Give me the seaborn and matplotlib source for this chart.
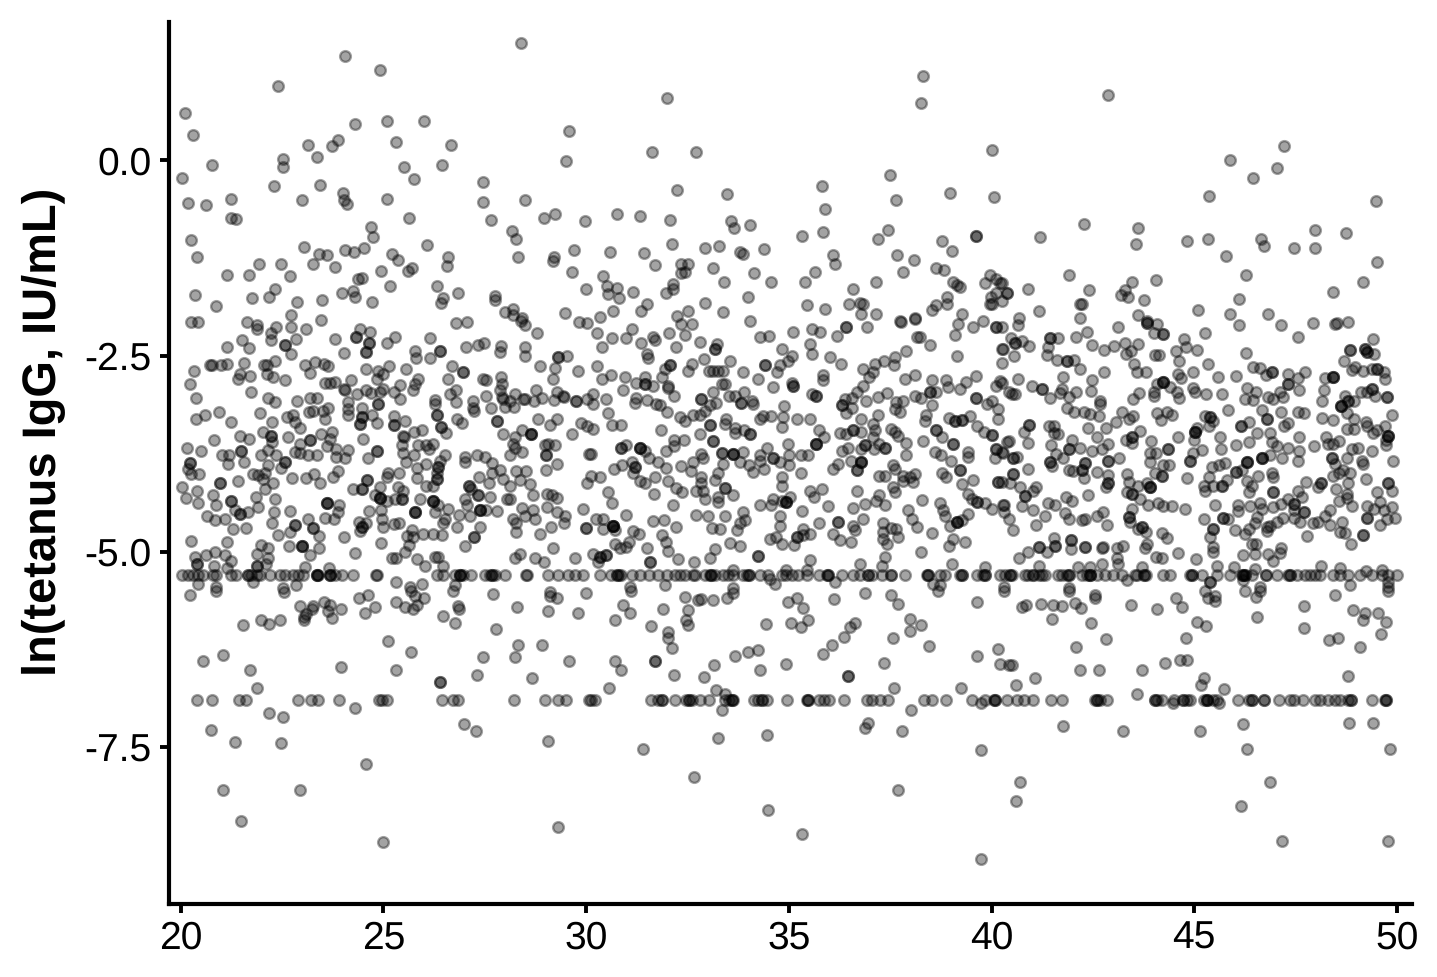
import numpy as np
import pandas as pd
import matplotlib
matplotlib.use("Agg")
import matplotlib.pyplot as plt
import seaborn as sns

# Ages of samples sitting on the two lower censoring limits
limit_upper = -5.3
limit_lower = -6.9
ages_upper_limit = [20.04,20.18,20.31,20.43,20.55,20.80,20.88,21.25,21.37,21.66,21.66,21.74,21.88,21.95,22.20,22.44,22.57,22.77,22.90,23.02,23.35,23.35,23.35,23.39,23.68,23.68,23.68,23.80,23.97,24.24,24.81,24.83,26.31,26.47,26.76,26.88,26.88,26.88,26.97,27.17,27.50,27.62,27.67,27.67,27.75,27.99,28.51,28.53,29.06,29.31,29.56,29.73,29.93,
30.34,30.62,30.75,30.75,30.81,30.87,31.12,31.32,31.55,31.78,32.0,32.19,32.31,32.43,32.64,32.68,32.93,33.05,33.09,33.09,33.17,33.38,33.50,33.63,33.87,33.96,34.02,34.02,34.28,34.49,34.82,34.94,35.07,35.23,35.45,35.75,35.95,35.97,35.97,36.30,36.59,36.75,36.96,36.96,37.04,37.29,37.53,37.53,37.86,38.41,38.44,38.44,38.73,38.85,39.22,39.26,39.26,39.63,39.79,39.83,39.83,40.20,
40.33,40.46,40.46,40.50,40.83,40.91,41.03,41.03,41.18,41.24,41.32,41.65,41.73,41.85,41.90,41.90,42.22,42.36,42.43,42.43,42.43,42.59,42.80,43.0,43.21,43.54,43.58,43.75,43.75,43.80,44.24,44.40,44.90,44.94,44.94,45.19,45.56,45.88,46.17,46.21,46.21,46.25,46.25,46.42,46.76,46.76,47.04,47.30,47.36,47.36,47.53,47.73,47.86,47.98,48.10,48.43,48.60,48.80,49.09,49.38,49.63,49.79,50.0]
ages_lower_limit = [20.40,20.78,21.44,21.62,22.89,23.21,23.39,23.90,24.89,24.97,25.08,26.45,26.72,26.85,28.21,28.98,29.30,29.50,30.08,
30.13,30.21,31.59,31.78,31.86,31.86,32.18,32.47,32.53,32.53,32.60,32.80,33.02,33.42,33.53,33.59,33.59,33.63,34.14,34.24,34.33,34.33,34.45,34.95,35.44,35.48,35.48,35.75,35.87,36.0,36.37,36.93,37.06,37.24,37.45,38.33,38.54,38.87,39.51,39.84,40.06,40.08,40.08,40.37,
40.62,40.79,41.03,41.46,41.73,42.55,42.59,42.59,42.68,42.84,44.03,44.03,44.08,44.20,44.49,44.73,44.73,44.82,44.90,45.23,45.31,45.31,45.31,45.47,45.56,46.09,46.34,46.42,46.42,46.71,46.72,47.09,47.36,47.45,47.67,47.98,48.10,48.31,48.47,48.60,48.80,48.86,48.86,49.38,49.71,49.73,49.73]

upper_left = [(28.40,1.50),(24.05,1.34),(24.91,1.16),(22.40,0.95),(20.11,0.61),(20.30,0.33),(20.78,-0.06),(20.04,-0.23),(23.14,0.20),(23.88,0.26),(23.72,0.18),(23.36,0.04),(24.30,0.47),(25.09,0.51),(26.0,0.51),(25.30,0.24),(26.67,0.20),(26.45,-0.06),(25.50,-0.09),(25.76,-0.24),(22.53,0.02),(22.53,-0.08),(22.31,-0.33),(23.44,-0.32),(22.98,-0.50),(21.23,-0.49),(20.19,-0.54),(20.62,-0.57),(21.25,-0.73),(21.37,-0.75),(24.0,-0.41),(24.03,-0.50),(24.10,-0.56),(25.10,-0.49),(25.62,-0.74),(27.46,-0.27),(27.46,-0.53),(27.65,-0.76),(28.50,-0.50),(29.57,0.37),(29.51,-0.01),(28.96,-0.74),(29.24,-0.69),(29.97,-0.78),(28.16,-0.90),(28.27,-1.0),(28.32,-1.24),(29.21,-1.24),(29.19,-1.29),(29.70,-1.14),(29.66,-1.42),(30.0,-1.64),(24.70,-0.85),(24.75,-0.98),(24.51,-1.12),(24.28,-1.17),(24.05,-1.14),(23.04,-1.11),(23.41,-1.19),(23.60,-1.21),(23.27,-1.33),(23.81,-1.36),(20.25,-1.02),(20.40,-1.24),(21.15,-1.46),(21.68,-1.46),(21.92,-1.33),(22.48,-1.33),(22.70,-1.48),(22.33,-1.65),(22.17,-1.75),(21.77,-1.76),(22.87,-1.81),(23.48,-1.78),(20.35,-1.72),(20.87,-1.86),(22.71,-1.97),(23.97,-1.70),(24.25,-1.67),(24.29,-1.75),(24.73,-1.81),(24.38,-1.51),(24.48,-1.50),(24.93,-1.41),(25.16,-1.60),(25.21,-1.20),(25.37,-1.27),(25.61,-1.41),(25.71,-1.38),(26.07,-1.08),(26.60,-1.23),(26.56,-1.35),(26.31,-1.60),(26.84,-1.69),(26.46,-1.76),(26.43,-1.82),(27.76,-1.73),(27.76,-1.79),(27.99,-1.94),(28.20,-1.90),(28.20,-1.97),(29.47,-1.95),(28.41,-2.02)]
upper_mid = [(32.0,0.80),(31.63,0.11),(32.72,0.11),(38.31,1.08),(38.26,0.73),(40.0,0.13),(32.23,-0.38),(33.47,-0.43),(35.81,-0.33),(35.89,-0.62),(35.85,-0.91),(37.5,-0.18),(37.64,-0.50),(38.97,-0.41),(40.07,-0.47),(30.77,-0.69),(31.34,-0.71),(32.06,-0.76),(33.58,-0.78),(33.64,-0.86),(34.03,-0.82),(35.32,-0.97),(37.19,-1.0),(37.45,-0.89),(39.61,-0.97,2),(38.77,-1.03),(39.03,-1.16),(30.60,-1.17),(31.43,-1.18),(31.69,-1.34),(32.11,-1.07),(32.93,-1.12),(33.28,-1.09),(33.79,-1.17),(33.86,-1.19),(34.39,-1.13),(32.33,-1.32),(32.52,-1.32),(32.33,-1.44),(32.43,-1.42),(33.12,-1.37),(33.41,-1.55),(34.14,-1.44),(34.57,-1.56),(36.09,-1.21),(36.14,-1.33),(35.64,-1.43),(35.39,-1.56),(36.57,-1.65),(37.15,-1.56),(37.67,-1.21),(38.08,-1.27),(37.81,-1.43),(38.63,-1.37),(38.83,-1.40),(39.06,-1.56),(39.14,-1.59),(39.22,-1.62),(39.84,-1.57),(39.97,-1.47),(40.11,-1.51),(40.22,-1.57),(40.37,-1.70),(40.12,-1.69),(39.98,-1.74),(39.96,-1.83),(40.0,-1.84),(40.26,-1.80),(38.89,-1.75),(38.91,-1.83),(38.63,-1.85),(38.53,-1.91),(39.28,-1.96),(38.11,-2.02),(37.75,-2.05),(37.16,-1.96),(36.49,-1.84),(36.75,-1.82),(36.83,-1.84),(36.78,-1.96),(35.90,-1.90),(35.44,-1.85),(34.0,-1.74),(33.38,-1.94),(32.93,-1.82),(32.52,-1.93),(32.24,-1.99),(31.49,-1.83),(31.36,-1.93),(31.16,-1.68),(30.81,-1.76),(30.76,-1.63),(30.54,-1.71),(30.52,-1.60),(30.42,-1.48),(30.67,-1.92),(30.34,-2.0),(31.97,-1.70),(32.15,-1.58),(32.15,-1.64)]
upper_right = [(42.87,0.84),(47.22,0.18),(45.88,0.01),(46.44,-0.22),(47.04,-0.10),(45.37,-0.46),(49.49,-0.52),(41.19,-0.98),(42.27,-0.81),(43.62,-0.87),(43.56,-1.07),(44.81,-1.03),(45.34,-1.01),(45.77,-1.22),(46.65,-1.01),(46.73,-1.10),(47.46,-1.12),(47.98,-0.89),(47.98,-1.12),(48.74,-0.93),(49.50,-1.30),(49.17,-1.55),(48.41,-1.68),(46.27,-1.46),(46.11,-1.77),(45.09,-1.91),(45.88,-1.96),(46.81,-1.96),(44.05,-1.53),(43.47,-1.55),(43.29,-1.66),(43.19,-1.72),(43.37,-1.74),(43.75,-1.79),(43.62,-1.98),(43.83,-2.05),(42.41,-1.66),(41.92,-1.47),(42.18,-1.84),(42.24,-1.84),(42.18,-2.01),(40.89,-1.64),(41.16,-1.92),(40.68,-2.02),(40.39,-1.70),(40.25,-1.57)]

lower_left = [(20.22,-5.56),(20.86,-5.50),(22.54,-5.52),(21.54,-5.94),(21.98,-5.87),(22.17,-5.93),(22.45,-5.87),(22.94,-5.70),(23.27,-5.70),(23.23,-5.74),(23.10,-5.80),(23.04,-5.84),(23.04,-5.87),(23.54,-5.65),(23.68,-5.68),(23.63,-5.76),(23.95,-5.73),(23.74,-5.85),(24.39,-5.59),(24.63,-5.55),(24.80,-5.71),(24.55,-5.79),(25.31,-5.64),(25.53,-5.71),(25.82,-5.68),(25.72,-5.74),(25.77,-5.57),(26.0,-5.59),(25.69,-5.50),(26.72,-5.50),(26.47,-5.83),(26.76,-5.92),(26.83,-5.69),(26.87,-5.73),(27.70,-5.54),(27.78,-5.99),(28.30,-5.71),(29.07,-5.76),(29.80,-5.78),(29.10,-5.52),(29.12,-5.57),(29.28,-5.59),(29.99,-5.53),(25.12,-6.14),(25.68,-6.28),(25.32,-6.52),(23.96,-6.47),(20.54,-6.40),(21.05,-6.32),(21.71,-6.52),(21.88,-6.75),(27.46,-6.35),(27.32,-6.58),(26.39,-6.67,2),(28.32,-6.19),(28.92,-6.19),(28.25,-6.35),(29.58,-6.40),(28.67,-6.62),(24.31,-7.0),(22.17,-7.06),(22.53,-7.11),(20.75,-7.28),(21.35,-7.44),(22.48,-7.45),(26.98,-7.21),(27.28,-7.29),(29.07,-7.42),(24.58,-7.72),(21.05,-8.05),(22.93,-8.05),(21.49,-8.45),(29.30,-8.52),(24.98,-8.71)]
lower_mid = [(31.10,-5.50),(30.92,-5.68),(31.07,-5.78),(30.70,-5.87),(31.90,-5.73),(31.59,-5.95),(32.43,-5.58),(32.76,-5.62),(32.83,-5.61),(33.12,-5.62),(33.48,-5.59),(33.63,-5.53),(32.52,-5.75),(32.46,-5.88),(32.52,-5.94),(32.02,-6.03),(32.02,-6.10),(32.11,-6.23),(31.71,-6.40,2),(30.72,-6.40),(30.85,-6.51),(30.56,-6.74),(32.16,-6.58),(32.90,-6.61),(33.15,-6.45),(33.68,-6.34),(33.99,-6.28),(34.23,-6.26),(34.28,-6.52),(34.43,-5.93),(34.92,-6.44),(33.20,-6.77),(33.42,-6.82),(33.34,-7.03),(33.26,-7.39),(34.45,-7.34),(31.41,-7.52),(32.66,-7.88),(34.49,-8.30),(35.32,-8.61),(34.99,-5.64),(35.19,-5.59),(35.34,-5.72),(35.05,-5.92),(35.30,-5.96),(35.48,-5.87),(36.12,-5.61),(36.87,-5.53),(37.52,-5.56),(37.70,-5.67),(38.68,-5.50),(39.65,-5.64),(40.31,-5.50),(37.98,-5.86),(38.26,-5.94),(38.0,-6.02),(37.57,-6.11),(38.45,-6.21),(36.64,-5.92),(36.50,-5.96),(36.36,-6.09),(36.07,-6.19),(35.84,-6.31),(37.35,-6.42),(36.46,-6.59,2),(37.60,-6.74),(39.24,-6.74),(39.65,-6.33),(40.15,-6.24),(40.20,-6.44),(40.44,-6.45),(39.74,-6.94),(38.01,-7.03),(36.95,-7.19),(36.87,-7.25),(37.80,-7.29),(39.74,-7.54),(37.70,-8.05),(39.74,-8.93)]
lower_right = [(41.92,-5.51),(40.74,-5.71),(40.84,-5.68),(41.22,-5.67),(41.51,-5.68),(41.73,-5.69),(42.07,-5.66),(42.21,-5.72),(42.55,-5.55),(42.56,-5.59),(43.44,-5.68),(44.08,-5.73),(44.55,-5.59),(44.69,-5.71),(45.27,-5.50),(45.35,-5.59),(45.51,-5.57),(45.51,-5.63),(46.24,-5.50),(46.61,-5.51),(46.53,-5.58),(46.55,-5.84),(41.49,-5.86),(42.46,-5.91),(42.83,-6.12),(42.08,-6.22),(45.06,-5.90),(45.28,-5.95),(44.80,-6.11),(47.70,-5.70),(47.70,-5.98),(48.47,-5.55),(48.91,-5.75),(49.21,-5.79),(49.17,-5.88),(49.53,-5.79),(49.73,-5.90),(49.61,-6.05),(48.33,-6.13),(48.54,-6.11),(49.08,-6.22),(49.77,-5.51),(40.51,-6.45),(41.07,-6.62),(40.60,-6.71),(42.17,-6.51),(42.64,-6.52),(43.71,-6.52),(44.29,-6.42),(44.65,-6.39),(44.82,-6.39),(48.80,-6.59),(45.23,-6.62),(45.16,-6.71),(45.74,-6.76),(43.58,-6.82),(44.47,-6.94),(45.61,-6.94),(41.76,-7.23),(43.24,-7.29),(45.13,-7.29),(46.20,-7.21),(48.82,-7.19),(49.40,-7.19),(46.29,-7.52),(49.82,-7.52),(40.69,-7.94),(40.60,-8.19),(46.87,-7.95),(46.16,-8.25),(47.17,-8.70),(49.78,-8.70)]

dense_left = [(20.26,-2.07),(20.43,-2.07),(21.64,-2.07),(21.88,-2.11),(21.87,-2.16),(22.36,-2.13),(22.22,-2.20),(22.72,-2.13),(23.10,-2.16),(23.45,-2.04),(22.22,-2.30),(22.84,-2.28),(21.52,-2.30),(21.69,-2.40),(21.15,-2.39),(22.56,-2.36,2),(22.73,-2.47),(23.80,-2.28),(24.02,-2.46),(24.42,-2.16),(24.68,-2.19),(24.32,-2.26,2),(24.65,-2.33,2),(24.58,-2.45,2),(25.09,-2.33),(25.28,-2.26),(26.16,-2.27),(25.77,-2.43),(25.80,-2.52),(26.39,-2.44,2),(26.16,-2.53),(26.80,-2.08),(27.05,-2.06),(27.03,-2.38),(27.34,-2.36),(27.48,-2.33),(27.89,-2.37),(27.87,-2.45),(28.39,-2.05),(28.49,-2.10),(28.80,-2.21),(28.49,-2.38),(28.50,-2.50),(29.31,-2.51,2),(29.52,-2.50),(28.86,-2.63),(29.24,-2.65),(29.82,-2.07),(30.01,-2.08),(29.81,-2.69),(29.19,-2.80),
(20.76,-2.62),(20.72,-2.61),(21.0,-2.61),(21.14,-2.60),(21.56,-2.59),(22.06,-2.62),(22.12,-2.61),(22.32,-2.57),(20.33,-2.69),(20.24,-2.86),(20.37,-3.04),(20.37,-3.30),(20.59,-3.26),(20.94,-3.22),(21.23,-3.35),(21.73,-2.96),(21.42,-2.79),(21.47,-2.73),(21.70,-2.76),(22.14,-2.73),(22.28,-2.77),(22.57,-2.81),(23.06,-2.61),(23.18,-2.72),(23.31,-2.58),(23.54,-2.60),(23.64,-2.63),(24.56,-2.66),(24.87,-2.69),(24.99,-2.73),(25.14,-2.63),(25.55,-2.67),(24.83,-2.79),(23.55,-2.84),(23.68,-2.84),(23.80,-2.83),(24.21,-2.81),(24.03,-2.92),(24.06,-2.94),(24.36,-2.99),(24.56,-2.94),(24.70,-2.97),(24.99,-2.92),(24.91,-2.96),(25.26,-2.96),(25.40,-2.87),(25.40,-3.05),(25.72,-2.93),(25.77,-2.86),(25.86,-2.79),(26.60,-2.80),(26.68,-2.63),(26.97,-2.71,2),(27.46,-2.79),(27.53,-2.81),(26.64,-2.99),(26.79,-2.94),(26.78,-3.09),(26.27,-3.06),(26.28,-3.11),(27.54,-3.01),(27.20,-3.07),(27.20,-3.16),(27.24,-3.20),(27.66,-3.16),(27.91,-2.77),(27.93,-2.86),(27.87,-2.94),(27.93,-3.03),(27.95,-3.05),(28.12,-3.07),(27.99,-3.15),(28.23,-3.15),(28.24,-2.99),(28.45,-3.05),(28.49,-3.05),(28.71,-3.08),(28.76,-2.94),(28.90,-3.04),(29.21,-3.06),(29.29,-2.96),(29.43,-3.01),(29.46,-3.03),(29.74,-3.08,2),(30.01,-3.05),
(22.16,-3.04),(22.32,-3.09),(22.86,-3.08),(23.20,-3.04),(23.36,-3.04),(23.17,-3.22),(23.27,-3.20),(23.50,-3.20),(23.64,-3.16),(23.55,-3.30),(21.95,-3.23),(22.26,-3.34),(22.62,-3.28),(22.77,-3.26),(22.81,-3.35),(22.95,-3.42),(24.13,-3.09),(24.13,-3.18),(24.13,-3.25),(24.48,-3.16),(24.87,-3.11,2),(24.71,-3.25),(24.48,-3.28,2),(24.42,-3.37,2),(24.83,-3.36),(25.26,-3.27),(25.26,-3.38,2),(25.54,-3.33),(26.31,-3.26,2),(26.82,-3.30),(26.93,-3.36),(26.43,-3.41,2),(26.54,-3.49),(25.96,-3.44),(25.76,-3.47),(25.51,-3.53),(27.79,-3.33,2),(27.95,-3.50),(28.24,-3.53),(28.20,-3.62),(28.24,-3.67),(28.43,-3.44),(28.63,-3.50,3),(28.82,-3.30),(29.11,-3.38),(29.27,-3.30),(29.66,-3.50),(29.87,-3.36),(30.01,-3.39),(28.98,-3.64),(29.06,-3.62),(29.24,-3.64),(29.02,-3.77,2),(28.41,-3.73),(28.12,-3.77),(29.29,-3.88),(29.02,-3.96),(30.08,-3.75),
(22.02,-3.47),(22.22,-3.52,2),(22.24,-3.60),(22.64,-3.54),(21.47,-3.52),(21.68,-3.56),(20.82,-3.58),(20.16,-3.68),(20.51,-3.71),(21.48,-3.71,2),(21.03,-3.76),(21.19,-3.77),(21.17,-3.88),(21.56,-3.85),(21.97,-3.77),(22.16,-3.70),(22.36,-3.76),(22.57,-3.86,2),(22.47,-3.93),(22.16,-3.90),(20.24,-3.87,2),(20.18,-3.94),(20.26,-4.01),(20.45,-4.01),(22.94,-3.62),(23.18,-3.58,2),(22.81,-3.73),(22.94,-3.74),(23.14,-3.76),(23.37,-3.76),(23.47,-3.50),(23.72,-3.47),(23.68,-3.56),(23.61,-3.65),(23.82,-3.69),(23.84,-3.79),(24.06,-3.81),(24.13,-3.70),(24.50,-3.56),(24.83,-3.71,2),(24.61,-3.80),(25.49,-3.52),(25.45,-3.64),(25.49,-3.74),(25.55,-3.85),(25.76,-3.77),(25.86,-3.64),(26.06,-3.64),(26.23,-3.62),(26.13,-3.69),(26.51,-3.76),(26.39,-3.84),(26.35,-3.92,2),(26.33,-3.99),(26.31,-4.07,2),(26.23,-4.16),(26.06,-4.16),(26.05,-3.88),(25.83,-3.93),(25.83,-4.06),
(27.01,-3.79),(27.01,-3.85),(27.30,-3.77),(27.50,-3.79),(27.67,-3.87),(27.68,-3.99),(27.87,-3.96),(27.36,-4.05),(27.61,-4.13),(27.95,-4.07),(28.12,-4.16),(28.04,-4.33),(28.13,-4.33),(28.28,-3.97),(28.51,-3.97),(28.36,-4.09),(28.61,-4.14),(28.68,-4.28),(29.04,-4.26),(29.17,-4.28),(29.29,-4.32),(30.01,-4.13),(29.93,-4.45),(29.04,-4.43),(28.41,-4.44),(28.69,-4.47),(28.49,-4.54),(28.73,-4.59),(28.20,-4.59),(28.27,-4.64),(28.27,-4.75),(29.29,-4.50),(29.49,-4.54),(29.46,-4.64),(29.13,-4.69),(28.86,-4.78),(29.99,-4.70,2),(29.19,-4.96),(28.38,-5.03),(28.24,-5.08),(28.73,-5.08),(28.96,-5.14),(29.72,-5.08),(27.81,-4.48),(27.54,-4.47),(27.38,-4.47,3),(27.34,-4.28,2),(27.62,-4.30),(27.11,-4.16,2),(27.17,-4.20),(27.02,-4.33),(27.05,-4.41),(26.87,-4.53),(27.13,-4.54),(27.38,-4.69),(26.82,-4.69),(27.23,-4.82,2),(27.02,-4.93),(26.23,-4.36,3),(26.35,-4.41),(26.60,-4.45),(26.27,-4.50),(26.51,-4.58),(26.46,-4.64),(25.90,-4.33),(25.77,-4.50,3),(25.98,-4.77),(26.23,-4.77),(26.45,-4.79),(25.71,-4.72),(25.57,-4.80),(25.73,-4.81),(25.63,-4.92),(25.53,-5.01),(25.30,-5.08),(25.22,-5.08),(25.82,-5.09),(26.02,-5.19),(26.27,-5.07),(26.35,-5.07),(26.47,-5.18),
(24.93,-4.89),(24.31,-5.02),(24.02,-4.81),(23.41,-4.80),(23.41,-4.96),(23.18,-5.04),(22.98,-4.93,3),(22.67,-4.93),(22.40,-4.79),(22.69,-4.75),(22.81,-4.66,2),(23.27,-4.70,2),(23.13,-4.59),(23.55,-4.57),(23.78,-4.59),(22.24,-4.64),(22.30,-4.50),(22.69,-4.48),(22.33,-4.33),(21.91,-4.43),(21.85,-4.30),(22.07,-4.20),(22.03,-4.07),(22.28,-4.13),(22.07,-3.99),(21.79,-4.01),(21.91,-4.02),(21.42,-4.10),(20.96,-4.12,2),(20.02,-4.17),(20.39,-4.22),(20.14,-4.32),(20.43,-4.38),(20.80,-4.28),(20.86,-4.40),(21.25,-4.36,2),(21.09,-4.58),(20.84,-4.60),(20.65,-4.54),(21.33,-4.47),(21.46,-4.52,2),(21.66,-4.50),(21.29,-4.71),(21.60,-4.70),(20.26,-4.86),(21.15,-4.88),(21.99,-4.92),(22.16,-4.96),(21.88,-5.03),(22.16,-5.08),(20.84,-5.01),(20.62,-5.05),(21.09,-5.04),(21.23,-5.12),(20.35,-5.07),(20.40,-5.16,2),(20.82,-5.18),(21.13,-5.21),(21.88,-5.19,2),(22.11,-5.16),(23.06,-5.20),(23.66,-5.21),(22.75,-4.06),(23.10,-4.06),(23.29,-4.01),(23.43,-4.13),(23.76,-4.05),(23.88,-3.97),(24.60,-4.08,2),(24.46,-4.20,2),(24.24,-4.20),(25.12,-3.99),(25.39,-4.0),(25.08,-4.05),(24.91,-4.18),(24.79,-4.28),(24.91,-4.31,3),(25.08,-4.35),(25.36,-4.18),(25.49,-4.23),(25.45,-4.33,2),(25.28,-4.33),(23.60,-4.38,3),(23.91,-4.41),(23.88,-4.50),(24.64,-4.48),(24.95,-4.47),(24.97,-4.58),(24.99,-4.69),(24.39,-4.62),(24.46,-4.69,2),(24.43,-4.74),(24.58,-4.64),(25.26,-4.65),(25.38,-4.64),(25.32,-5.39),(20.43,-5.42),(20.86,-5.45),(21.79,-5.39),(22.53,-5.47),(22.84,-5.43),(25.65,-5.45),(25.94,-5.41),(26.76,-5.43)]

dense_mid = [(30.27,-2.21),(30.64,-2.27),(30.39,-2.38),(31.12,-2.16),(30.99,-2.27),(31.35,-2.34),(31.65,-2.26),(31.69,-2.29),(32.04,-2.21),(32.33,-2.09),(32.60,-2.09),(32.43,-2.23),(32.21,-2.38),(31.50,-2.47),(31.53,-2.53),(32.82,-2.32),(33.23,-2.35),(33.17,-2.41,2),(32.90,-2.54),(34.04,-2.05),(34.30,-2.26),(34.51,-2.25),(35.09,-2.19),(35.56,-2.15),(35.76,-2.19),(36.18,-2.24),(36.42,-2.13,2),(36.93,-2.13),(35.52,-2.35),(35.56,-2.48),(34.84,-2.41),(35.07,-2.50),(34.98,-2.57),(36.01,-2.51),(36.28,-2.60),(37.76,-2.06),(38.11,-2.03),(38.15,-2.26),(38.23,-2.26),(38.48,-2.36),(39.11,-2.23),(39.18,-2.09),(39.55,-2.13),(39.79,-2.05),(40.12,-2.13,2),(40.26,-2.41),(39.14,-2.50),(37.90,-2.44),(37.61,-2.51),(37.60,-2.62),(37.35,-2.57),(37.12,-2.60),(36.83,-2.66),(37.08,-2.71),(36.98,-2.77),(36.83,-2.88),(36.67,-2.96),(36.55,-3.04),(40.25,-2.59),(34.41,-2.62,2),(34.78,-2.62),(34.70,-2.71),(33.87,-2.70),(33.54,-2.56),(33.38,-2.69),(33.26,-2.69),(33.13,-2.69),(33.03,-2.69),(32.60,-2.60),(32.52,-2.69),(32.06,-2.61,2),(31.94,-2.67),(31.88,-2.77),(30.27,-2.63),(30.62,-2.74),(30.38,-2.80),(30.97,-2.77),(31.24,-2.84),(31.45,-2.77),(31.45,-2.86,2),(31.65,-2.89),(32.02,-2.88),(32.02,-2.91),(30.91,-2.93),(30.50,-3.05),(30.17,-2.99),(30.17,-3.11),(32.16,-3.01),(31.22,-3.04),(31.20,-3.10),(31.50,-3.06),(31.73,-3.11),(31.82,-3.13),(32.0,-3.21),(30.54,-3.23),(30.64,-3.38),(30.85,-3.38),(30.17,-3.43),(31.84,-3.44),(32.31,-3.28),(32.43,-3.33),(32.64,-3.25),(32.80,-3.25),(32.93,-3.20),(33.05,-3.13),(33.20,-3.10),(32.84,-3.05,2),(33.12,-2.96),(33.42,-2.86),(33.34,-2.86),(34.23,-2.80),(34.61,-2.90),(35.07,-2.84),(35.09,-2.89,2),(35.83,-2.74),(35.85,-2.81),(35.56,-2.98),(35.68,-3.01,2),(33.53,-3.01),(33.67,-3.01),(33.90,-2.96),(33.83,-3.10,2),(34.12,-3.11),(34.08,-3.07),(34.88,-3.14),(34.86,-3.28),(34.84,-3.41),(35.21,-3.30),(35.52,-3.30),(34.28,-3.30),(34.37,-3.27),(34.57,-3.27),(33.05,-3.38,2),(33.46,-3.31),(33.42,-3.37),(32.80,-3.50),(33.67,-3.42),(33.67,-3.48),(33.90,-3.45),(34.04,-3.50,2),(33.12,-3.59,2),(32.42,-3.57),(32.16,-3.58),(32.16,-3.65),(31.97,-3.71),(31.32,-3.67,3),(30.99,-3.64),(30.87,-3.67,2),(30.13,-3.75),(31.45,-3.71),(31.55,-3.81),(31.78,-3.85),(31.97,-3.93),(31.12,-3.86),(30.89,-3.90),(30.68,-3.94),(31.20,-3.92,2),(31.16,-4.0),(31.71,-4.05),(31.32,-4.10),(31.46,-4.12),(32.01,-4.10),(32.21,-4.19),(32.37,-4.24),(31.68,-4.27),(32.15,-4.41),(30.54,-4.24),(30.64,-4.38),(30.34,-4.05),(30.13,-4.03),(32.35,-3.91),(32.64,-3.86),(32.58,-3.97),(32.89,-3.81),(32.84,-3.75),(33.34,-3.74,2),(33.63,-3.75,3),(33.86,-3.73),(33.38,-3.88),(33.24,-3.99),(33.17,-4.08),(33.79,-3.86),(34.02,-3.90),(34.12,-3.98),(34.39,-3.94),(34.28,-3.77),(34.28,-3.84),(34.45,-3.67),(34.61,-3.81,2),(34.78,-3.86),(35.0,-3.77),(35.0,-3.89),(34.97,-3.63),(35.29,-3.76),(35.48,-3.76),(35.29,-3.99),(35.68,-3.62,3),(35.74,-3.45),(35.86,-3.53),
(36.26,-3.48),(36.42,-3.50),(36.57,-3.44,2),(36.79,-3.47),(36.77,-3.30),(37.08,-3.37),(37.20,-3.26),(37.12,-3.45),(37.08,-3.54),(36.30,-3.13,2),(36.38,-3.05),(36.55,-3.16),(36.42,-3.23),(36.90,-3.08),(37.20,-3.03),(37.43,-2.97),(37.86,-2.79),(38.11,-2.74),(37.64,-3.09),(37.82,-3.07),(38.11,-3.01),(38.26,-3.04),(37.61,-3.18),(37.74,-3.22),(38.48,-2.96,2),(38.64,-2.96),(38.52,-3.13),(38.54,-2.81),(38.87,-2.81),(38.93,-2.90),(39.23,-2.92),(39.36,-2.83),(39.61,-2.76),(40.12,-2.88),(40.21,-2.82),(40.44,-2.96),(38.39,-3.26),(38.37,-3.33),(39.61,-3.04,2),(39.88,-3.11),(40.0,-3.07),(40.16,-3.18),(40.15,-3.30),(38.96,-3.29),(39.10,-3.33,2),(39.26,-3.32,2),(39.47,-3.27),(39.63,-3.39),(39.81,-3.47),(40.0,-3.51,2),(38.64,-3.45,2),(38.77,-3.54),(39.05,-3.62,2),(38.31,-3.59),(37.90,-3.61),(37.90,-3.76),(37.53,-3.43),(37.61,-3.47),(37.70,-3.52),(36.87,-3.64,2),(36.79,-3.69),(37.23,-3.62),(37.37,-3.67,2),(37.10,-3.69),(36.30,-3.71),(36.46,-3.67),(36.79,-3.86,3),(36.67,-3.96,2),(36.53,-3.84),(36.22,-3.88),(36.08,-3.94),(37.23,-4.03),(37.37,-4.04),(37.57,-3.89),(37.61,-3.95),(37.82,-4.03),(37.82,-4.10),(37.98,-4.05),(38.11,-4.01),(38.05,-4.11),(38.60,-3.73),(38.75,-3.77),(39.01,-3.84),(39.22,-3.96,2),(38.77,-3.99),(38.87,-4.05),(39.42,-3.73),(39.42,-3.79),(40.08,-3.81),(40.12,-3.69,2),(40.37,-3.60),(40.29,-3.74),(39.26,-4.14),(39.53,-4.08),(40.16,-4.11,2),(37.57,-4.18),(37.61,-4.24),(36.67,-4.22),(35.81,-4.20),(35.52,-4.23),(35.62,-4.30),(34.82,-4.05),(34.82,-4.16),(34.61,-4.33),(34.57,-4.40),(34.30,-4.40),(34.82,-4.35),(34.94,-4.37,3),(35.02,-4.30),(32.84,-4.05),(32.84,-4.13),(32.89,-4.22),(32.93,-4.33),(32.70,-4.22),(33.42,-4.19,2),(33.63,-4.28),(33.26,-4.30),(33.26,-4.37),(32.70,-4.53),(33.01,-4.55),(33.42,-4.54),(33.86,-4.50),(33.91,-4.60),(33.79,-4.64),(33.71,-4.73),(31.65,-4.61),(31.92,-4.60),(32.21,-4.69),(31.86,-4.79),(31.97,-4.88),(32.01,-4.99),(33.11,-4.70),(33.30,-4.71),(30.99,-4.53),(30.42,-4.58),(30.25,-4.59),(30.42,-4.71),(30.67,-4.67,4),(30.71,-4.73),(31.16,-4.74),(31.31,-4.78),(30.71,-4.90),(30.83,-4.96),(30.99,-4.94),(31.06,-4.88),(31.49,-4.96),(30.50,-5.04,2),(30.34,-5.07,2),(30.17,-5.03),(30.30,-5.13),(31.57,-5.13,2),(32.27,-5.09),(32.66,-5.13),(33.05,-5.08),(33.17,-4.97),(33.54,-4.89),(33.79,-4.93),(34.23,-5.06,2),(33.63,-5.24),(34.94,-5.24),(35.52,-5.11),(35.45,-5.24),(34.79,-4.55),(34.79,-4.67),(35.33,-4.48),(35.75,-4.63),(36.22,-4.62,2),(35.97,-4.42),(34.53,-4.84),(34.68,-4.81),(34.82,-4.90),(35.12,-4.92),(35.19,-4.81,2),(35.35,-4.71),(35.35,-4.79),(35.52,-4.78),(36.08,-4.78),(36.26,-4.85),(36.53,-4.88),(36.59,-4.44),(36.89,-4.39),(37.16,-4.35),(37.22,-4.28),(37.37,-4.41),(36.59,-4.67),(36.64,-4.72),(36.83,-4.58),(37.31,-4.64),(37.33,-4.75),(37.53,-4.70),(37.64,-4.71),(37.70,-4.81),(37.33,-4.84),(37.41,-4.90),(38.28,-4.34),(37.93,-4.47),(38.03,-4.58),(38.15,-4.69),(38.52,-4.76),(38.25,-5.01),(37.37,-5.07),(37.29,-5.18),(36.75,-5.16),(39.03,-5.16),(38.73,-4.38),(38.81,-4.47),(38.85,-4.54),(39.42,-4.26),(39.51,-4.33),(39.63,-4.37,2),(39.85,-4.38),(40.02,-4.46),(40.29,-4.41),(39.42,-4.52),(38.97,-4.67),(39.14,-4.62,3),(39.26,-4.60),(39.05,-4.84),(38.96,-4.93),(39.34,-4.88),(39.83,-5.20),(34.53,-5.35),(34.65,-5.42),(36.13,-5.39),(31.08,-5.45),(31.94,-5.43),(33.63,-5.47),(38.56,-5.41),(38.73,-5.43)]

dense_right = [(40.64,-2.10),(43.13,-2.13),(43.83,-2.08,2),(44.09,-2.09),(44.01,-2.20),(44.24,-2.22,2),(45.27,-2.21),(46.11,-2.11),(47.14,-2.10),(47.94,-2.08),(48.46,-2.09),(48.52,-2.08),(48.79,-2.07),(47.55,-2.26),(40.25,-2.13),(40.48,-2.27),(40.58,-2.33,2),(40.76,-2.31),(40.93,-2.37),(40.29,-2.41),(40.56,-2.50),(41.44,-2.27,2),(41.65,-2.27),(41.39,-2.38),(41.36,-2.49),(41.61,-2.55),(41.85,-2.56,2),(42.04,-2.55),(42.18,-2.67),(42.08,-2.26),(42.35,-2.19),(42.47,-2.36),(42.78,-2.42),(43.03,-2.37),(43.29,-2.34),(43.60,-2.35),(43.32,-2.47),(43.43,-2.44),(43.52,-2.60),(43.58,-2.71),(43.80,-2.71),(42.78,-2.71),(44.03,-2.49),(44.14,-2.49),(44.54,-2.43),(44.75,-2.28),(44.79,-2.38),(45.06,-2.42),(44.63,-2.57),(44.96,-2.70),(45.33,-2.60),(45.58,-2.77),(46.03,-2.76),(46.28,-2.46),(44.61,-2.73),(44.67,-2.78),(44.24,-2.83,3),(44.08,-2.86),(44.0,-2.96),(44.0,-3.01),(43.64,-2.97),(43.48,-3.05),(44.40,-2.90),(44.57,-2.96),(44.63,-3.04),(44.96,-2.91),(45.02,-2.96),(45.29,-2.99),(45.69,-2.99),(45.82,-3.19),(40.66,-2.79),(40.99,-2.89),(41.24,-2.92,2),(41.44,-3.04),(40.50,-2.98),(40.58,-2.99),(40.25,-2.84),(41.77,-2.77),(41.73,-2.92),(41.69,-2.97),(41.91,-3.03),(42.08,-2.96),(42.47,-2.81),(42.45,-2.95),(42.68,-3.07),(42.68,-3.12),(41.85,-3.16),(42.04,-3.21),(42.27,-3.22),(42.43,-3.24),(42.66,-3.27),(43.21,-3.22),(43.38,-3.30),(43.50,-3.27),(43.07,-3.35),(42.83,-3.42),(42.61,-3.53),(42.39,-3.42),(44.09,-3.23),(44.17,-3.32),(44.32,-3.22),(44.46,-3.25),(43.66,-3.46),(43.46,-3.54,2),(43.32,-3.58),(43.46,-3.61),(43.93,-3.59),(44.59,-3.53),(40.93,-3.38,2),(40.80,-3.47),(40.91,-3.61),(40.43,-3.59),(41.42,-3.39),(41.53,-3.39),(41.53,-3.48),(41.65,-3.50),(41.98,-3.57),(41.90,-3.69,2),(41.47,-3.64),(42.17,-3.67),(42.47,-3.72),(42.72,-3.69),(42.86,-3.62),(44.35,-3.69,2),(43.91,-3.74),(44.06,-3.74),(43.91,-3.85),(40.54,-3.81,2),(40.25,-3.73),(40.62,-3.79),(41.59,-3.75),(41.75,-3.81),(41.44,-3.86,2),(41.48,-3.91),(42.31,-3.87,2),(42.22,-3.96,2),(41.90,-3.96),(42.02,-3.97),(42.27,-4.06),(42.59,-3.98),(42.88,-3.84,2),(43.15,-3.81),(40.91,-3.94),(40.52,-4.01,2),(40.46,-4.13),(40.25,-4.11),(42.88,-4.02),(42.86,-4.13,2),(42.83,-4.18),(43.34,-4.01),(43.40,-4.11),(44.22,-3.89),(44.38,-3.89),(44.03,-3.99),(44.20,-4.03,2),(44.82,-4.06),(44.90,-3.84,2),(44.98,-3.74),(45.20,-3.70),
(45.02,-3.47,3),(45.06,-3.42),(45.0,-3.57),(45.27,-3.27),(45.39,-3.28,2),(45.47,-3.33),(45.37,-3.39),(45.64,-3.54),(45.66,-3.69),(46.03,-3.64),(46.15,-3.39,2),(46.34,-3.35),(46.54,-3.48),(46.34,-3.60),(46.79,-3.30,2),(46.68,-3.19),(46.87,-3.48),(46.91,-3.60),(47.04,-3.65),(47.32,-3.67),(47.59,-3.54),(47.59,-3.71),(47.55,-3.84),(47.16,-3.81),(47.14,-3.21),(47.22,-3.40),(47.32,-3.36),(47.57,-3.22),(47.71,-3.23),(46.30,-2.91),(46.24,-3.05),(46.44,-3.06),(46.52,-2.96),(46.81,-3.03),(46.95,-3.05),(47.12,-2.96),(47.20,-3.02),(47.30,-2.86,2),(46.44,-2.64),(46.62,-2.65),(46.77,-2.74),(46.91,-2.71,2),(47.30,-2.73),(47.57,-2.78),(47.72,-2.70),(47.59,-2.93),(48.23,-2.78),(48.43,-2.77,3),(48.19,-2.94),(48.16,-3.08),(48.16,-3.29),(48.43,-3.32),(48.70,-2.56),(48.84,-2.42,2),(49.21,-2.41,2),(49.42,-2.28),(49.25,-2.45,2),(49.44,-2.48),(48.88,-2.68),(48.97,-2.64),(49.17,-2.69),(49.38,-2.66),(49.50,-2.67,2),(49.67,-2.70),(49.71,-2.79),(49.38,-2.92,2),(49.26,-2.96),(49.11,-2.96),(49.46,-3.01),(49.75,-3.03,2),(48.72,-3.01),(48.80,-3.07,2),(48.93,-3.07),(48.61,-3.14,3),(48.76,-3.23),(48.94,-3.31),(48.76,-3.43),(48.94,-3.43),(49.23,-3.35),(49.25,-3.39),(49.42,-3.48),(49.50,-3.45),(49.71,-3.40),(49.87,-3.26),(49.79,-3.52,3),(49.73,-3.58),(49.73,-3.64),(49.38,-3.72),(49.91,-3.84),(48.25,-3.54),(48.31,-3.62),(48.41,-3.62),(48.57,-3.59),(47.96,-3.65),(48.89,-3.69),(49.05,-3.67),(48.76,-3.81),(49.13,-3.84),(49.17,-3.88),(48.39,-3.81,2),(48.46,-3.88),(48.56,-3.99),(48.68,-3.96),(48.43,-4.03),(48.84,-3.99),(49.23,-4.07),(48.12,-4.12,2),(48.06,-4.18),(47.75,-4.11),(48.50,-4.20),(48.80,-4.13),(48.76,-4.26),(48.76,-4.32),(48.56,-4.35),(49.50,-4.24),(49.79,-4.13,2),(49.87,-4.23),(49.57,-4.37),(49.25,-4.42),(49.44,-4.45),(48.88,-4.42),(49.67,-4.47),(49.87,-4.43),(49.25,-4.57,2),(49.96,-4.57),(49.75,-4.59),(49.58,-4.66),(48.35,-4.47),(48.23,-4.55),(48.06,-4.62),(47.92,-4.64),(48.34,-4.66),(48.64,-4.62),(48.60,-4.75),(48.72,-4.76),(48.86,-4.90),(47.78,-4.80),(49.16,-4.79,2),(47.57,-4.22),(47.65,-4.30),(47.45,-4.39,2),(47.45,-4.47),(47.32,-4.33),(47.71,-4.50,2),(47.20,-4.57),(47.04,-4.62),(47.47,-4.57),(47.61,-4.62),(46.94,-4.24,2),(46.95,-4.43),(47.14,-4.39),(46.62,-4.38),(46.67,-4.45),(46.38,-4.42),(46.09,-4.41),(46.07,-4.48),(45.51,-4.41),(44.77,-4.45),(46.54,-4.56),(46.50,-4.64),(46.34,-4.71),(46.25,-4.77),(46.01,-4.72),(46.79,-4.69),(46.79,-4.74),(46.87,-4.67),(45.23,-4.59),(45.72,-4.57,2),(45.83,-4.59),(45.47,-4.71,2),(45.39,-4.81),(45.47,-4.94),(45.47,-5.01),(46.42,-4.90),(46.53,-4.91),(46.21,-5.04),(46.50,-5.03),(46.81,-5.03),(47.14,-4.96),(47.12,-5.02),(46.95,-5.12),(45.47,-4.16),(45.24,-4.16),(45.27,-4.22),(45.68,-4.16,2),(45.80,-4.09),(45.37,-4.05),(46.34,-4.24),(46.42,-4.16),(46.30,-4.10),(46.58,-4.04),(46.03,-3.98,2),(46.17,-3.96),(46.30,-3.86,3),(46.67,-3.81,3),(46.87,-3.76),(46.95,-4.05),(46.91,-3.99),(45.43,-3.92),(45.60,-3.90),(45.76,-3.87),
(43.91,-4.18,3),(43.83,-4.13),(43.62,-4.16),(43.46,-4.26,2),(43.34,-4.24),(43.66,-4.33),(43.46,-4.45),(43.38,-4.56,2),(43.42,-4.62),(43.87,-4.41),(44.10,-4.38),(44.24,-4.42),(44.44,-4.42),(42.39,-4.28),(41.84,-4.30),(41.98,-4.35),(41.40,-4.38),(41.57,-4.40),(41.03,-4.47),(40.74,-4.42),(40.83,-4.29,2),(41.03,-4.22),(41.10,-4.17),(40.70,-4.18),(40.31,-4.41),(40.31,-4.50),(40.42,-4.58),(40.54,-4.72),(41.32,-4.55),(41.10,-4.66),(41.80,-4.51),(41.90,-4.59),(42.22,-4.60),(42.31,-4.59),(42.61,-4.54),(42.76,-4.50),(42.84,-4.66),(43.71,-4.69,2),(43.62,-4.71),(43.80,-4.75),(44.20,-4.76),(44.32,-4.83),(41.55,-4.83),(41.96,-4.85,2),(41.96,-4.97),(42.31,-4.94,2),(41.57,-4.93,2),(41.16,-4.94,2),(40.91,-5.01),(40.68,-5.08),(41.36,-5.0),(42.76,-4.94),(42.72,-4.96),(43.23,-4.93),(43.09,-4.96),(43.10,-5.08),(43.13,-5.16),(43.83,-4.90),(43.79,-4.96),(44.06,-5.07),(44.21,-5.08),(44.61,-5.02),(45.04,-5.09),(41.18,-5.18),(42.12,-5.20),(42.43,-5.20),(42.73,-5.16),(43.71,-5.20),(45.56,-5.18),(45.97,-5.20),(46.50,-5.22),(48.13,-5.19),(48.60,-5.21),(49.24,-5.25),(49.63,-5.23),(43.34,-5.37),(45.39,-5.39,2),(46.21,-5.37),(48.84,-5.43),(49.79,-5.39),(49.79,-5.45),(41.90,-5.47),(46.62,-5.45),(40.31,-5.45)]

x_ticks = [20, 25, 30, 35, 40, 45, 50]
y_ticks = [0.0, -2.5, -5.0, -7.5]
y_title = "ln(tetanus IgG, IU/mL)"

sns.set_theme(style="ticks")
plt.rcParams["font.family"] = ["Liberation Sans", "DejaVu Sans"]
plt.rcParams["text.hinting"] = "no_hinting"
plt.rcParams["text.hinting_factor"] = 1

bands = [upper_left, upper_mid, upper_right, lower_left, lower_mid, lower_right,
         dense_left, dense_mid, dense_right]
rows = []
for band in bands:
    for item in band:
        rows.extend([(item[0], item[1])] * (item[2] if len(item) > 2 else 1))
rows += [(a, limit_upper) for a in ages_upper_limit]
rows += [(a, limit_lower) for a in ages_lower_limit]
df = pd.DataFrame(rows, columns=["age", "igg"])

fig = plt.figure(figsize=(7.185, 4.885), dpi=200)
ax = fig.add_axes([0.1173, 0.0752, 0.8653, 0.9023])
sns.scatterplot(data=df, x="age", y="igg", ax=ax, s=15, color="black",
                edgecolor="black", linewidth=0.85, alpha=0.36, legend=False)
ax.set_xlim(19.70, 50.37)
ax.set_ylim(-9.50, 1.77)
ax.set_xticks(x_ticks)
ax.set_yticks(y_ticks)
ax.set_yticklabels([f"{v:.1f}" for v in y_ticks])
ax.tick_params(axis="both", labelsize=14, length=3.2, width=1.4, color="black",
               labelcolor="black", pad=3)
ax.set_xlabel("")
ax.set_ylabel(y_title, fontsize=16.8, fontweight="bold", color="black")
ax.yaxis.set_label_coords(-0.0825, 0.535)
sns.despine(ax=ax)
for side in ("left", "bottom"):
    ax.spines[side].set_linewidth(1.5)
    ax.spines[side].set_color("black")
fig.savefig("out.png", dpi=200)
